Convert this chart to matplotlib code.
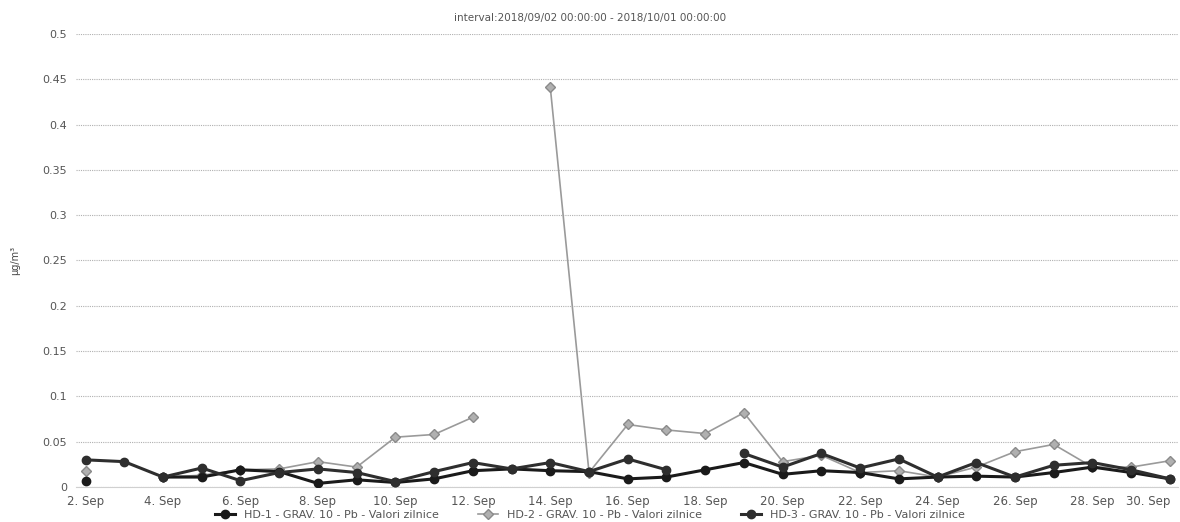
import numpy as np
import matplotlib
matplotlib.use("Agg")
import matplotlib.pyplot as plt

# days of September 2018 (2. Sep .. 30. Sep)
days = list(range(2, 31))

# values (None = no value that day)
hd1 = [0.007, None, 0.011, 0.011, 0.019, 0.017, 0.004, 0.008, 0.005, 0.009,
       0.018, 0.020, 0.018, 0.017, 0.009, 0.011, 0.019, 0.027, 0.014, 0.018,
       0.016, 0.009, 0.011, 0.012, 0.011, 0.016, 0.022, 0.016, 0.009]
hd2 = [0.018, None, 0.011, 0.013, 0.019, 0.020, 0.028, 0.022, 0.055, 0.058,
       0.077, None, 0.441, 0.016, 0.069, 0.063, 0.059, 0.082, 0.028, 0.035,
       0.016, 0.018, 0.011, 0.022, 0.039, 0.047, 0.022, 0.022, 0.029]
hd3 = [0.030, 0.028, 0.011, 0.021, 0.007, 0.016, 0.020, 0.016, 0.006, 0.017,
       0.027, 0.020, 0.027, 0.017, 0.031, 0.019, None, 0.037, 0.022, 0.037,
       0.021, 0.031, 0.011, 0.027, 0.011, 0.024, 0.027, 0.019, 0.009]

labels = ["HD-1 - GRAV. 10 - Pb - Valori zilnice",
          "HD-2 - GRAV. 10 - Pb - Valori zilnice",
          "HD-3 - GRAV. 10 - Pb - Valori zilnice"]

y_ticks = [0, 0.05, 0.1, 0.15, 0.2, 0.25, 0.3, 0.35, 0.4, 0.45, 0.5]
x_ticks = list(range(2, 31, 2))


def arr(v):
    return np.array([np.nan if x is None else x for x in v], dtype=float)


fig = plt.figure(figsize=(11.8, 5.22), dpi=100)
ax = fig.add_axes([0.064, 0.067, 0.934, 0.868])

ax.plot(days, arr(hd2), color="#9a9a9a", lw=1.2, marker="D", ms=5,
        mfc="#b0b0b0", mec="#8a8a8a", label=labels[1], zorder=2)
ax.plot(days, arr(hd1), color="#1a1a1a", lw=2.2, marker="o", ms=6,
        label=labels[0], zorder=3)
ax.plot(days, arr(hd3), color="#2e2e2e", lw=2.2, marker="o", ms=6,
        label=labels[2], zorder=3)

ax.set_xlim(1.74, 30.2)
ax.set_ylim(0, 0.5)
ax.set_yticks(y_ticks)
ax.set_yticklabels([("%g" % t) for t in y_ticks], color="#555555", fontsize=8)
ax.set_xticks(x_ticks)
ax.set_xticklabels([f"{d}. Sep" for d in x_ticks], color="#555555", fontsize=8.5)
# keep the last date label inside the figure
ax.get_xticklabels()[-1].set_ha("right")
ax.get_xticklabels()[-1].set_x(30.45)
ax.tick_params(length=0, pad=6)
ax.yaxis.grid(True, linestyle=(0, (1, 1)), color="#b0b0b0", lw=0.8)
ax.set_axisbelow(True)
for s in ["top", "right", "left"]:
    ax.spines[s].set_visible(False)
ax.spines["bottom"].set_color("#d0d0d0")

ax.set_ylabel("µg/m³", fontsize=7, color="#444444", labelpad=16)
fig.text(0.5, 0.965, "interval:2018/09/02 00:00:00 - 2018/10/01 00:00:00",
         ha="center", va="center", fontsize=7.5, color="#555555")

h, l = ax.get_legend_handles_labels()
order = [1, 0, 2]
fig.legend([h[i] for i in order], [l[i] for i in order], loc="lower center",
           bbox_to_anchor=(0.5, -0.015), ncol=3, frameon=False, fontsize=8,
           labelcolor="#555555", handlelength=1.8, columnspacing=3.5)

fig.savefig("out.png", dpi=100)
